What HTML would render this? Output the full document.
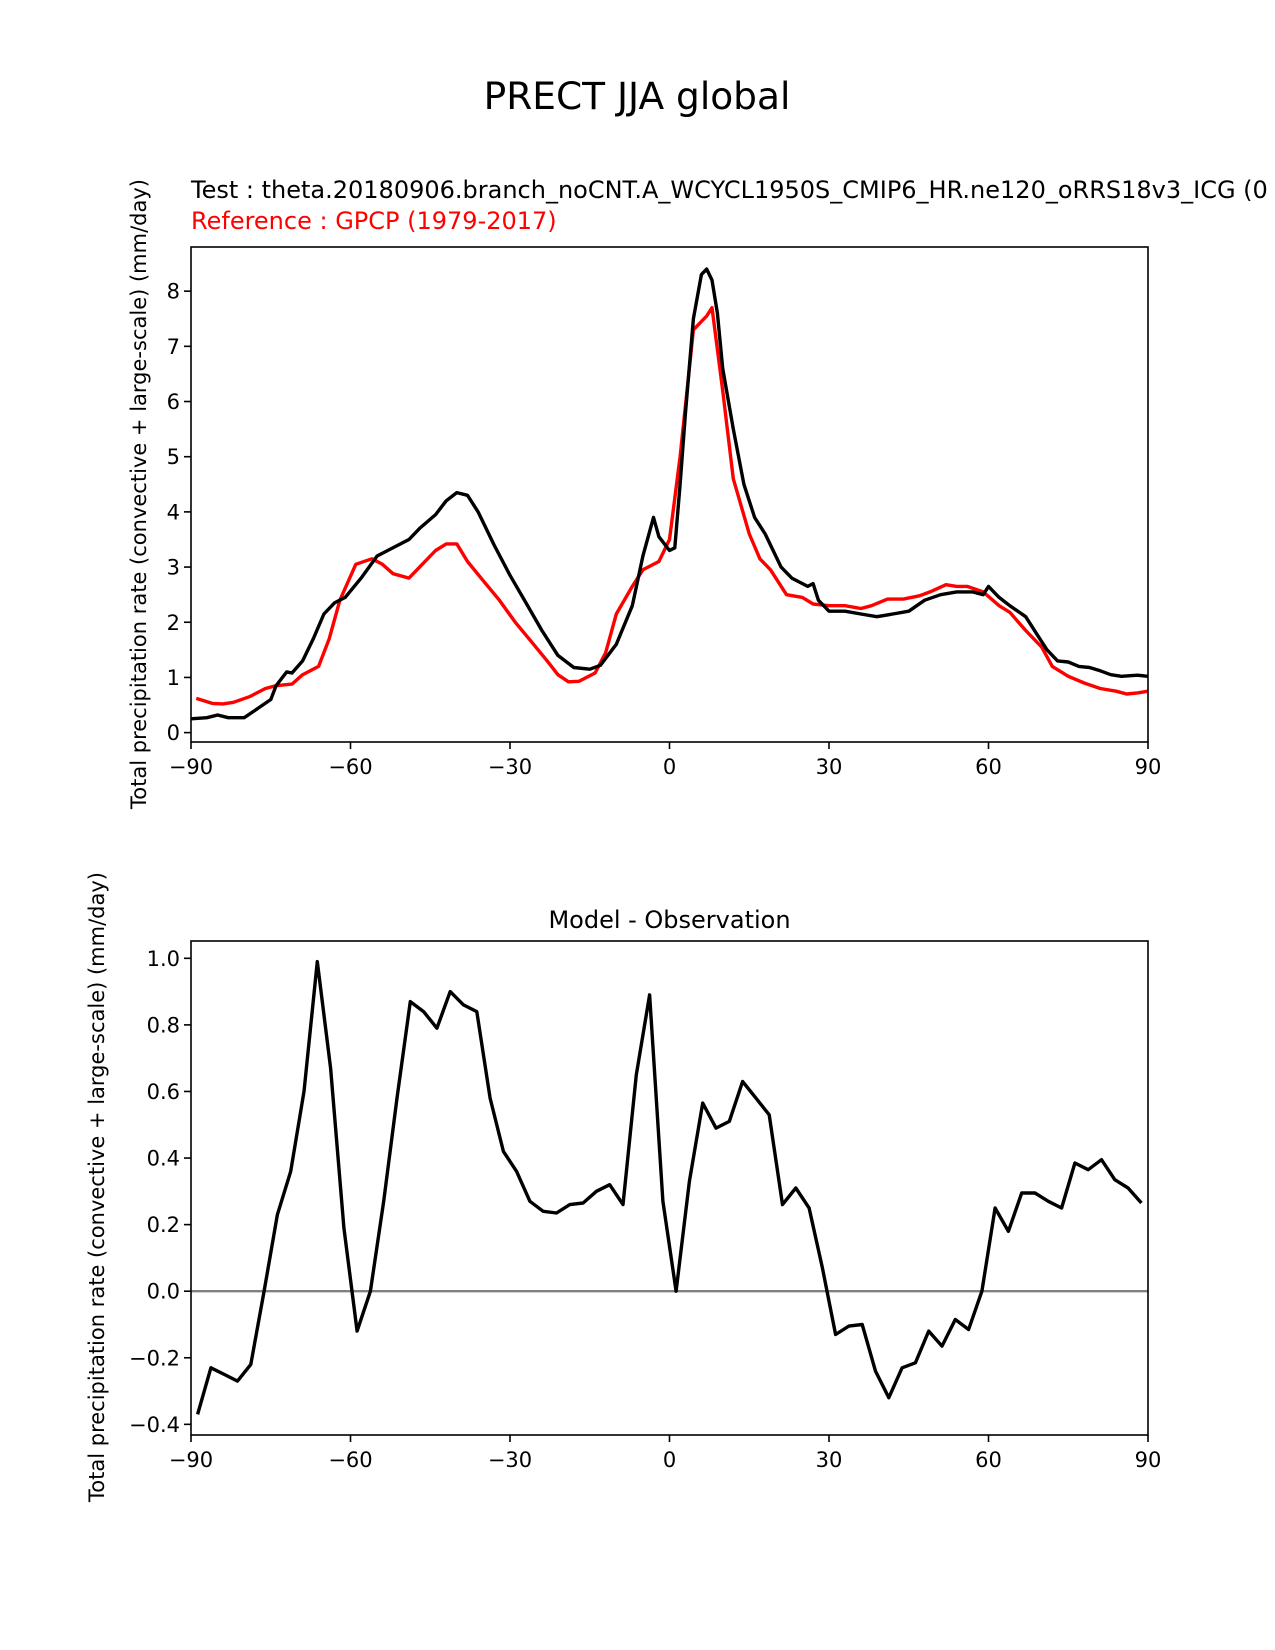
<!DOCTYPE html>
<html><head><meta charset="utf-8"><style>
html,body{margin:0;padding:0;background:#fff;}
svg{display:block;font-family:"DejaVu Sans","Liberation Sans",sans-serif;}
</style></head><body>
<svg id="fig" width="1275" height="1650" viewBox="0 0 1275 1650">
<rect width="1275" height="1650" fill="#fff"/>
<text x="637" y="109" font-size="37.5" text-anchor="middle">PRECT JJA global</text>
<g id="top"></g>
<g id="bot"></g>
</svg>
<script>
const testLat=[-90,-87,-85,-83,-80,-78,-75,-74,-72,-71,-69,-67,-65,-63,-61,-58,-55,-52,-49,-47,-44,-42,-40,-38,-36,-33,-30,-27,-24,-21,-18,-15,-13,-10,-7,-5,-3,-2,0,1,2,3,4.5,6,7,8,9,10,12,14,16,18,21,23,26,27,28,30,33,36,39,42,45,48,51,54,57,59,60,62,64,67,69,71,73,75,77,79,81,83,85,88,90];
const testVal=[0.25,0.27,0.32,0.27,0.27,0.4,0.6,0.85,1.1,1.08,1.3,1.7,2.15,2.35,2.45,2.8,3.2,3.35,3.5,3.7,3.95,4.2,4.35,4.3,4.0,3.4,2.85,2.35,1.85,1.4,1.18,1.15,1.22,1.6,2.3,3.2,3.9,3.55,3.3,3.35,4.5,5.8,7.5,8.3,8.4,8.2,7.6,6.6,5.5,4.5,3.9,3.6,3.0,2.8,2.65,2.7,2.4,2.2,2.2,2.15,2.1,2.15,2.2,2.4,2.5,2.55,2.55,2.5,2.65,2.45,2.3,2.1,1.8,1.5,1.3,1.28,1.2,1.18,1.12,1.05,1.02,1.04,1.02];
const refLat=[-89,-86,-84,-82,-79,-76,-74,-71,-69,-66,-64,-62,-59,-56,-54,-52,-49,-47,-44,-42,-40,-38,-35,-32,-29,-26,-23,-21,-19,-17,-14,-12,-10,-7,-5,-2,0,2,4.5,7,8,10,12,15,17,19,22,25,27,30,33,36,38,41,44,47,49,52,54,56,59,62,64,67,70,72,75,78,81,84,86,88,90];
const refVal=[0.62,0.53,0.52,0.55,0.65,0.8,0.85,0.88,1.05,1.2,1.7,2.4,3.05,3.15,3.05,2.88,2.8,3.0,3.3,3.42,3.42,3.1,2.75,2.4,2.0,1.65,1.3,1.05,0.92,0.93,1.08,1.45,2.15,2.65,2.95,3.1,3.5,5.0,7.3,7.55,7.7,6.2,4.6,3.6,3.15,2.95,2.5,2.45,2.33,2.3,2.3,2.25,2.3,2.42,2.42,2.48,2.55,2.68,2.65,2.65,2.55,2.3,2.18,1.85,1.55,1.2,1.02,0.9,0.8,0.75,0.7,0.72,0.75];
const diffPx=[188,201,214,226,239,251,264,276,289,302,314,327,339,352,365,377,390,403,415,428,440,453,466,478,491,504,516,529,541,554,567,579,592,604,617,630,642,655,667,680,693,706,718,731,743,756,768,781,793,806,819,831,844,857,869,882,895,907,920,932,945,958,970,983,996,1008,1021,1033,1046,1059,1071,1084];
const diffVal=[-0.37,-0.23,-0.25,-0.27,-0.22,0.0,0.23,0.36,0.6,0.99,0.67,0.19,-0.12,0.0,0.27,0.58,0.87,0.84,0.79,0.9,0.86,0.84,0.58,0.42,0.36,0.27,0.24,0.235,0.26,0.265,0.3,0.32,0.26,0.65,0.89,0.27,0.0,0.33,0.565,0.49,0.51,0.63,0.58,0.53,0.26,0.31,0.25,0.07,-0.13,-0.105,-0.1,-0.24,-0.32,-0.23,-0.215,-0.12,-0.165,-0.085,-0.115,0.0,0.25,0.18,0.295,0.295,0.27,0.25,0.385,0.365,0.395,0.335,0.31,0.265];
const diffLat=diffPx.map(p=>Math.round(((p-636)/5.056)/1.25)*1.25);
const xTicks=[-90,-60,-30,0,30,60,90];
const xTickLabels=["\u221290","\u221260","\u221230","0","30","60","90"];
const topYTicks=[0,1,2,3,4,5,6,7,8];
const botYTicks=[-0.4,-0.2,0.0,0.2,0.4,0.6,0.8,1.0];
const NS="http://www.w3.org/2000/svg";
function mk(parent,tag,attrs,text){const e=document.createElementNS(NS,tag);for(const k in attrs)e.setAttribute(k,attrs[k]);if(text!==undefined)e.textContent=text;parent.appendChild(e);return e;}
function panel(g,top,bottom,ymin,ymax,yTicks,yFmt,ylabY){
  const L=191,R=1148;
  const sx=v=>L+(v+90)/180*(R-L);
  const sy=v=>bottom-(v-ymin)/(ymax-ymin)*(bottom-top);
  xTicks.forEach((t,i)=>{
    const tk=mk(g,'line',{x1:sx(t),x2:sx(t),y1:bottom,y2:bottom+7,stroke:'#000','stroke-width':1.6});
    
    
    const lb=mk(g,'text',{x:sx(t),y:bottom+32,'font-size':21,'text-anchor':'middle'},xTickLabels[i]);
    
    
  });
  yTicks.forEach(t=>{
    const tk=mk(g,'line',{x1:L-7,x2:L,y1:sy(t),y2:sy(t),stroke:'#000','stroke-width':1.6});
    
    
    const lb=mk(g,'text',{x:L-11,y:sy(t)+7.5,'font-size':21,'text-anchor':'end'},yFmt(t));
    
    
  });
  const yl=mk(g,'text',{x:0,y:0,'font-size':21,'text-anchor':'middle',transform:`translate(${ylabY[0]},${ylabY[1]}) rotate(-90)`},'Total precipitation rate (convective + large-scale) (mm/day)');
  
  
  return {sx,sy,L,R};
}
function line(g,xs,ys,sx,sy,color,name){
  const d=xs.map((x,i)=>(i?'L':'M')+sx(x).toFixed(1)+','+sy(ys[i]).toFixed(1)).join('');
  const p=mk(g,'path',{d,fill:'none',stroke:color,'stroke-width':3.4,'stroke-linejoin':'round','clip-path':`url(#${name}-clip)`});
  
  
}
const fig=document.getElementById('fig');
const defs=mk(fig,'defs',{});
const c1=mk(defs,'clipPath',{id:'test-line-clip'});mk(c1,'rect',{x:191,y:247,width:957,height:495});
const c2=mk(defs,'clipPath',{id:'ref-line-clip'});mk(c2,'rect',{x:191,y:247,width:957,height:495});
const c3=mk(defs,'clipPath',{id:'diff-line-clip'});mk(c3,'rect',{x:191,y:941,width:957,height:494});
const gt=document.getElementById('top');
const a1=panel(gt,247,742,-0.17,8.8,topYTicks,v=>String(v),[146,494]);
line(gt,refLat,refVal,a1.sx,a1.sy,'#ff0000','ref-line');
line(gt,testLat,testVal,a1.sx,a1.sy,'#000','test-line');
const f1=mk(gt,'rect',{x:191,y:247,width:957,height:495,fill:'none',stroke:'#000','stroke-width':1.6});


const tt=mk(gt,'text',{x:191,y:198,'font-size':24},'Test : theta.20180906.branch_noCNT.A_WCYCL1950S_CMIP6_HR.ne120_oRRS18v3_ICG (0');


const rt=mk(gt,'text',{x:191,y:229,'font-size':24,fill:'#ff0000'},'Reference : GPCP (1979-2017)');


const gb=document.getElementById('bot');
const a2=panel(gb,941,1435,-0.432,1.052,botYTicks,v=>(v<0?'\u2212':'')+Math.abs(v).toFixed(1),[104,1187]);
const zl=mk(gb,'line',{x1:191,x2:1148,y1:a2.sy(0),y2:a2.sy(0),stroke:'#808080','stroke-width':2.4});


line(gb,diffLat,diffVal,a2.sx,a2.sy,'#000','diff-line');
const f2=mk(gb,'rect',{x:191,y:941,width:957,height:494,fill:'none',stroke:'#000','stroke-width':1.6});


const bt=mk(gb,'text',{x:669.5,y:928,'font-size':24,'text-anchor':'middle'},'Model - Observation');


</script>
</body></html>
